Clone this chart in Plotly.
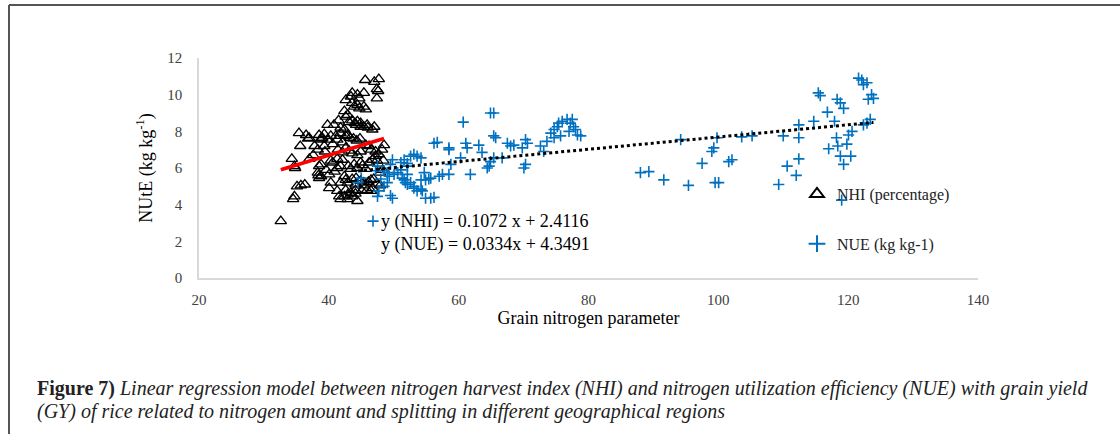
import plotly.graph_objects as go

# ---- data ----
nhi_x = [32.6, 34.5, 34.7, 34.3, 34.8, 35.6, 35.4, 36.5, 36.8, 35.1,
         35.7, 36.3, 37.6, 38.3, 38.5, 38.8, 38.4, 38.8, 38.7, 39.0,
         39.8, 39.3, 39.8, 40.8, 40.3, 41.1, 41.3, 40.6, 40.05, 40.3,
         40.05, 41.3, 41.6, 41.8, 42.4, 42.9, 44.4, 41.3, 41.8, 42.1,
         42.4, 42.6, 42.4, 42.9, 42.6, 43.4, 43.6, 44.4, 44.7, 45.4,
         43.6, 44.4, 45.4, 45.7, 45.6, 47.0, 47.7, 47.4, 47.6, 47.4,
         43.1, 43.6, 44.0, 44.4, 44.9, 45.4, 45.9, 46.7, 48.5, 47.2,
         47.7, 45.7, 46.2, 46.5, 42.9, 43.3, 43.8, 44.3, 44.8, 42.4,
         41.4, 42.1, 42.6, 43.1, 43.6, 44.4, 44.9, 40.3, 40.6, 41.3,
         43.0, 43.4, 43.9, 44.4, 44.9, 45.2, 45.7, 46.2, 46.7, 47.2,
         47.4, 42.9, 43.6, 44.1, 44.9, 45.4, 46.1, 46.9, 47.4, 47.9,
         42.6, 43.4, 44.1, 45.1, 45.9, 46.7, 47.9, 42.9, 43.6, 44.1,
         48.3, 48.4, 48.2, 37.0, 39.4, 39.6, 40.9, 41.8, 41.5, 44.2,
         44.9, 43.9, 44.7, 42.6, 36.97, 38.5, 39.3, 41.8, 42.6, 37.8,
         38.9, 42.1, 34.7, 46.0, 47.0, 46.5, 46.5, 45.4, 44.2, 41.8,
         38.3, 38.5]
nhi_y = [3.1, 4.3, 4.45, 6.5, 6.0, 7.2, 7.9, 7.8, 7.6, 5.0,
         5.05, 5.1, 6.7, 7.0, 6.1, 6.2, 5.6, 5.55, 7.55, 7.65,
         7.55, 7.2, 8.35, 8.35, 7.75, 7.75, 7.55, 7.3, 5.65, 5.2,
         4.9, 4.75, 4.45, 4.3, 4.45, 4.3, 4.2, 6.0, 6.1, 6.45,
         5.55, 5.35, 9.1, 8.9, 9.7, 9.9, 10.1, 10.0, 9.8, 10.1,
         9.55, 9.45, 9.35, 9.2, 10.8, 10.7, 10.85, 10.3, 10.2, 9.8,
         8.5, 8.6, 8.45, 8.55, 8.45, 8.25, 8.35, 8.1, 7.25, 6.9,
         6.75, 7.25, 7.2, 7.0, 7.8, 7.65, 7.6, 7.5, 7.6, 8.1,
         7.0, 6.85, 7.1, 6.95, 6.8, 6.7, 6.9, 6.4, 6.3, 6.5,
         6.1, 5.95, 6.2, 6.0, 6.3, 6.15, 5.95, 6.3, 6.45, 6.65,
         6.4, 5.2, 5.4, 5.1, 5.3, 5.05, 5.25, 5.4, 5.15, 5.75,
         4.8, 4.65, 4.8, 4.75, 4.8, 4.9, 5.05, 4.55, 4.45, 4.6,
         5.9, 6.4, 7.0, 6.5, 6.9, 5.9, 5.8, 8.2, 8.6, 8.35,
         8.25, 9.35, 9.25, 8.8, 7.64, 7.8, 7.85, 7.9, 7.75, 7.2,
         7.6, 7.4, 6.1, 8.2, 8.25, 5.35, 4.75, 5.2, 5.45, 5.2,
         5.75, 5.45]

nue_x = [46.8, 44.5, 45.0, 47.2, 47.5, 48.0, 48.5, 47.5, 47.7, 48.5,
         49.0, 49.3, 49.0, 49.5, 49.8, 49.5, 49.8, 50.05, 50.6, 51.1,
         51.1, 51.6, 52.1, 52.1, 51.3, 51.6, 51.8, 52.1, 52.6, 52.1,
         52.6, 53.1, 53.6, 54.2, 53.1, 53.1, 53.6, 54.2, 54.4, 54.7,
         54.2, 54.9, 55.4, 55.7, 54.9, 55.7, 56.2, 57.0, 57.5, 56.2,
         56.7, 58.5, 58.5, 58.8, 58.5, 60.3, 60.7, 61.1, 61.3, 61.8,
         63.1, 63.6, 64.9, 65.4, 65.4, 65.7, 65.4, 64.9, 64.7, 64.4,
         66.7, 67.5, 68.0, 68.5, 69.8, 70.3, 70.6, 70.3, 70.05, 72.6,
         73.1, 73.6, 74.2, 74.7, 74.7, 75.2, 75.4, 75.7, 75.95, 76.7,
         77.0, 77.2, 77.5, 77.7, 78.0, 78.3, 78.8, 88.0, 89.3, 91.6,
         94.2, 95.4, 97.5, 99.0, 99.3, 99.8, 99.5, 100.05, 101.6, 102.1,
         103.6, 105.2, 109.3, 110.6, 110.0, 112.0, 112.4, 112.4, 112.4, 114.7,
         115.4, 115.7, 116.8, 117.0, 117.9, 118.2, 118.3, 118.4, 118.8, 118.8,
         119.3, 119.3, 119.0, 119.8, 120.05, 120.6, 120.4, 121.6, 122.1, 122.35,
         122.9, 123.6, 123.9, 123.1, 122.35, 122.9, 123.4]
nue_y = [3.1, 5.2, 5.45, 5.85, 6.1, 5.4, 5.0, 4.45, 4.75, 5.85,
         5.2, 5.55, 5.75, 4.5, 4.35, 6.2, 6.45, 5.65, 5.75, 5.9,
         6.3, 6.45, 6.25, 6.1, 5.45, 5.35, 5.2, 5.1, 5.2, 5.65,
         6.65, 6.75, 6.65, 6.55, 5.0, 4.9, 4.75, 4.85, 4.75, 5.75,
         5.35, 5.35, 5.4, 5.45, 4.35, 4.35, 4.4, 5.55, 5.65, 7.35,
         7.4, 7.0, 7.1, 6.2, 5.65, 6.55, 8.5, 7.35, 7.1, 5.65,
         7.25, 6.85, 9.0, 9.0, 7.75, 7.65, 6.55, 6.35, 6.1, 6.0,
         6.55, 7.35, 7.2, 7.25, 7.1, 7.55, 7.35, 6.2, 6.0, 7.2,
         6.9, 7.45, 7.9, 8.1, 7.65, 8.25, 8.45, 7.75, 8.55, 8.65,
         8.0, 8.45, 8.65, 8.25, 8.1, 7.8, 7.75, 5.75, 5.8, 5.35,
         7.55, 5.05, 6.25, 6.9, 7.1, 7.65, 5.2, 5.2, 6.35, 6.45,
         7.7, 7.75, 5.1, 6.1, 7.75, 5.6, 6.5, 7.65, 8.35, 8.55,
         10.1, 9.95, 9.05, 7.05, 8.55, 7.65, 9.75, 7.2, 9.55, 6.65,
         9.25, 6.2, 4.25, 7.3, 7.8, 8.0, 6.65, 10.9, 10.8, 10.55,
         10.65, 10.0, 9.8, 9.75, 8.35, 8.45, 8.65]

nhi_slope, nhi_intercept = 0.1072, 2.4116
nue_slope, nue_intercept = 0.0334, 4.3491

x_ticks = [20, 40, 60, 80, 100, 120, 140]
y_ticks = [0, 2, 4, 6, 8, 10, 12]

series_names = ["NHI (percentage)", "NUE (kg kg-1)"]
equation_text = ["y (NHI) = 0.1072 x + 2.4116", "y (NUE) = 0.0334x + 4.3491"]
x_title = "Grain nitrogen parameter"
y_title = "NUtE (kg kg<sup>-1</sup>)"
caption_lines = [
    "<b>Figure 7)</b> <i>Linear regression model between nitrogen harvest index (NHI) and "
    "nitrogen utilization efficiency (NUE) with grain yield</i>",
    "<i>(GY) of rice related to nitrogen amount and splitting in different geographical regions</i>",
]

# ---- figure ----
SERIF = "Liberation Serif, Times New Roman, serif"
BLUE = "#0070C0"

fig = go.Figure()

fig.add_trace(go.Scatter(
    x=nhi_x, y=nhi_y, mode="markers", name=series_names[0], legendgroup="a",
    marker=dict(symbol="triangle-up-open", size=10, color="black",
                line=dict(width=1.3, color="black")),
))
fig.add_trace(go.Scatter(
    x=nue_x, y=nue_y, mode="markers", name=series_names[1], legendgroup="b",
    marker=dict(symbol="cross-thin-open", size=8, color=BLUE,
                line=dict(width=1.6, color=BLUE)),
))

nx0, nx1 = min(nhi_x), max(nhi_x)
fig.add_trace(go.Scatter(
    x=[nx0, nx1], y=[nhi_slope * nx0 + nhi_intercept, nhi_slope * nx1 + nhi_intercept],
    mode="lines", line=dict(color="#FF0000", width=3.5), showlegend=False, hoverinfo="skip",
))
ux0, ux1 = min(nue_x), max(nue_x)
fig.add_trace(go.Scatter(
    x=[ux0, ux1], y=[nue_slope * ux0 + nue_intercept, nue_slope * ux1 + nue_intercept],
    mode="lines", line=dict(color="black", width=3, dash="dot"), showlegend=False, hoverinfo="skip",
))

W, H = 1120, 434
L, T = 199, 58
R = W - 978
B = H - 278
PW, PH = W - L - R, H - T - B

def px_x(p):
    return (p - L) / PW

def px_y(p):
    return (H - B - p) / PH

fig.update_layout(
    width=W, height=H,
    margin=dict(l=L, r=R, t=T, b=B, pad=0),
    paper_bgcolor="white", plot_bgcolor="white",
    font=dict(family=SERIF, color="black"),
    showlegend=True,
    legend=dict(
        x=px_x(797), y=px_y(177), xanchor="left", yanchor="top",
        font=dict(family=SERIF, size=16, color="#222222"),
        bgcolor="rgba(0,0,0,0)", itemwidth=30, tracegroupgap=26,
        itemsizing="constant",
    ),
    xaxis=dict(
        range=[20, 140], tickvals=x_ticks, showgrid=False, zeroline=False,
        showline=True, linecolor="#D9D9D9", linewidth=1.5, ticks="",
        tickfont=dict(family=SERIF, size=15, color="#404040"),
        ticklabelstandoff=7,
        title=dict(text=x_title, font=dict(family=SERIF, size=18, color="black"), standoff=2),
        automargin=False,
    ),
    yaxis=dict(
        range=[0, 12], tickvals=y_ticks, showgrid=False, zeroline=False,
        showline=True, linecolor="#D9D9D9", linewidth=1.5, ticks="",
        tickfont=dict(family=SERIF, size=15, color="#404040"),
        ticklabelstandoff=12,
        title=dict(text=y_title, font=dict(family=SERIF, size=18, color="black"), standoff=10),
        automargin=False,
    ),
    shapes=[
        dict(type="line", xref="paper", yref="paper",
             x0=px_x(9), x1=px_x(1130), y0=px_y(5), y1=px_y(5),
             line=dict(color="#555555", width=2)),
        dict(type="line", xref="paper", yref="paper",
             x0=px_x(9), x1=px_x(9), y0=px_y(5), y1=px_y(440),
             line=dict(color="#555555", width=2)),
    ],
    annotations=[
        dict(text="<br>".join(equation_text), x=47.7, y=3.75, xref="x", yref="y",
             xanchor="left", yanchor="top", align="left", showarrow=False,
             font=dict(family=SERIF, size=18, color="black")),
        dict(text=caption_lines[0], x=px_x(35), y=px_y(388), xref="paper", yref="paper",
             xanchor="left", yanchor="middle", align="left", showarrow=False,
             font=dict(family=SERIF, size=20, color="#222222")),
        dict(text=caption_lines[1], x=px_x(35), y=px_y(411), xref="paper", yref="paper",
             xanchor="left", yanchor="middle", align="left", showarrow=False,
             font=dict(family=SERIF, size=20, color="#222222")),
    ],
)

fig.write_html(
    "out.html",
    config={"displayModeBar": False},
    post_script="document.body.style.margin='0';document.body.style.overflow='hidden';",
)
